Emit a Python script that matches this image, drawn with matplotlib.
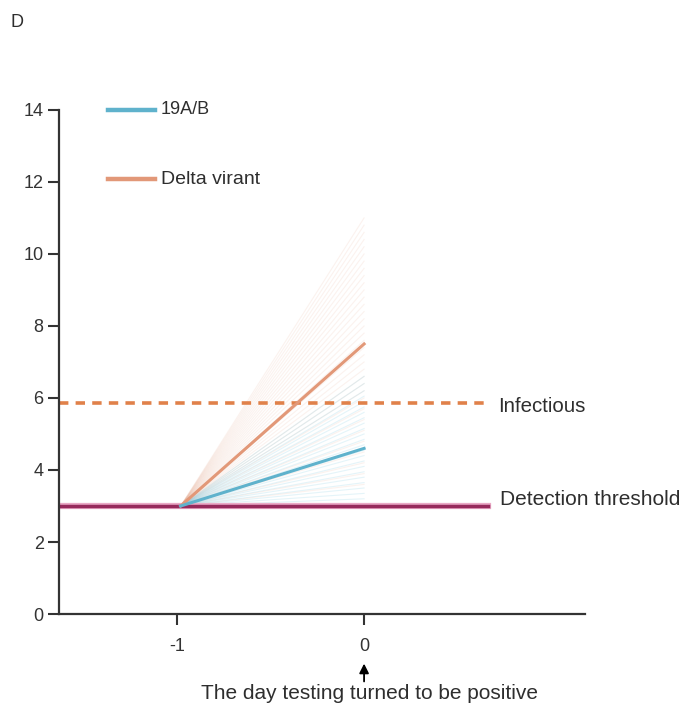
import matplotlib.pyplot as plt
import numpy as np

plt.rcParams['font.family'] = ['Liberation Sans', 'DejaVu Sans']

# Values (log10 viral load)
day_start = -0.98
day_end = 0
start_load = 3.0

# individual trajectories at day 0 (faint lines)
delta_ends = [3.6, 3.9, 4.2, 4.5, 4.8, 5.1, 5.4, 5.7, 6.0, 6.2, 6.4, 6.6, 6.8, 7.0,
              7.2, 7.4, 7.6, 7.8, 8.0, 8.2, 8.4, 8.6, 8.8, 9.0, 9.2, 9.4, 9.6,
              9.8, 10.0, 10.2, 10.4, 10.6, 10.8, 11.0]
a19_ends = [3.2, 3.35, 3.5, 3.65, 3.8, 3.95, 4.1, 4.25, 4.4, 4.55, 4.7, 4.85,
            5.0, 5.15, 5.3, 5.45, 5.6, 5.75, 5.9, 6.05, 6.2, 6.4, 6.6]

# mean trajectories
delta_mean = 7.5
a19_mean = 4.6

infectious_level = 5.85
detection_level = 3.0

blue = '#5fb2cc'
orange = '#e29878'
txt = '#2e2e2e'

fig = plt.figure(figsize=(6.83, 7.11), dpi=100)
ax = fig.add_axes([0.0864, 0.1364, 0.77, 0.709])

# Faint individual lines
for e in delta_ends:
    ax.plot([day_start, day_end], [start_load, e], color=orange, alpha=0.12, lw=0.8)
for e in a19_ends:
    ax.plot([day_start, day_end], [start_load, e], color='#6cc3dd', alpha=0.18, lw=0.8)

# Threshold lines
ax.plot([-1.63, 0.66], [infectious_level, infectious_level], color='#e0814a',
        lw=2.6, ls=(0, (2.6, 2.0)))
ax.plot([-1.63, 0.66], [detection_level, detection_level], color='#eaa9c6', lw=4.5)
ax.plot([-1.63, 0.66], [detection_level, detection_level], color='#962a5c', lw=2.5)

# Mean lines
ax.plot([day_start, day_end], [start_load, delta_mean], color=orange, lw=2.2)
ax.plot([day_start, day_end], [start_load, a19_mean], color=blue, lw=2.2)

# Legend drawn manually
ax.plot([-1.369, -1.118], [14, 14], color=blue, lw=3.2, clip_on=False)
ax.text(-1.085, 14, '19A/B', fontsize=13, va='center', color=txt)
ax.plot([-1.369, -1.118], [12.08, 12.08], color=orange, lw=3.2, clip_on=False)
ax.text(-1.085, 12.08, 'Delta virant', fontsize=14, va='center', color=txt)

ax.text(0.717, 5.75, 'Infectious', fontsize=14.8, va='center', color=txt)
ax.text(0.727, 3.19, 'Detection threshold', fontsize=15,
        va='center', color=txt, clip_on=False)

ax.set_xlim(-1.63, 1.18)
ax.set_ylim(0, 14)
ax.set_xticks([-1, 0])
ax.set_xticklabels(['-1', '0'])
ax.set_yticks([0, 2, 4, 6, 8, 10, 12, 14])

for s in ['top', 'right']:
    ax.spines[s].set_visible(False)
for s in ['left', 'bottom']:
    ax.spines[s].set_linewidth(1.6)
    ax.spines[s].set_color('#333333')
ax.tick_params(width=1.5, length=8, labelsize=13, colors='#333333', pad=3)
ax.tick_params(axis='x', pad=9)

# Arrow pointing to day 0
ax.annotate('', xy=(0, -1.3), xytext=(0, -1.95), xycoords='data',
            arrowprops=dict(arrowstyle='-|>', color='black', lw=1.3, mutation_scale=14),
            annotation_clip=False)
ax.text(0.03, -2.2, 'The day testing turned to be positive', fontsize=15,
        ha='center', va='center', color=txt)

fig.text(0.015, 0.969, 'D', fontsize=13, va='center', color=txt)

fig.savefig('out.png')
